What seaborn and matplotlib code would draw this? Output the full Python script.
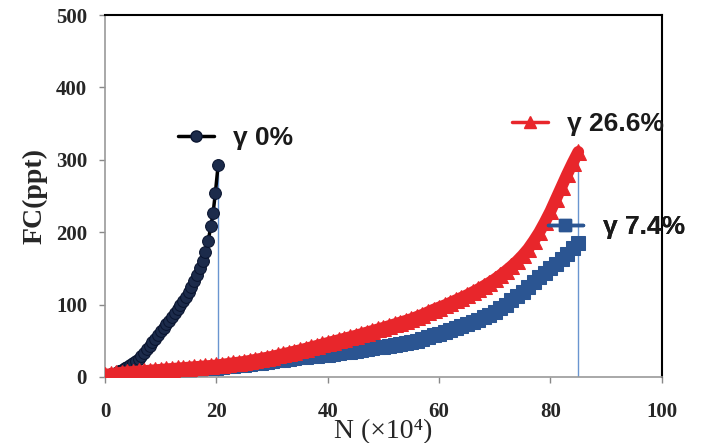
import numpy as np
import pandas as pd
import matplotlib
matplotlib.use('Agg')
import matplotlib.pyplot as plt
from matplotlib.lines import Line2D
import seaborn as sns

# gamma 0% series
n_g0 = [0, 0.5, 1, 1.5, 2, 2.5, 3, 3.5, 4, 4.5, 5, 5.5, 6, 6.5, 7, 7.5, 8, 8.5, 9, 9.5,
        10, 10.5, 11, 11.5, 12, 12.5, 13, 13.5, 14, 14.5, 15, 15.5, 16, 16.5, 17, 17.5,
        18, 18.5, 19, 19.4, 19.8, 20.3]
fc_g0 = [0, 1, 2, 4, 6, 8, 10, 12, 14, 16, 19, 22, 25, 29, 33, 38, 43, 48, 53, 58,
         63, 68, 73, 78, 83, 88, 94, 99, 105, 111, 118, 125, 133, 141, 150, 160,
         172, 188, 208, 227, 254, 293]

# gamma 26.6% and 7.4% series share N = 0..85
n_long = list(range(0, 86))
fc_g266 = [3, 4, 5, 6, 6.5, 7, 7.6, 8.2, 8.8, 9.4, 10,
           10.6, 11.2, 11.8, 12.4, 13, 13.6, 14.2, 14.8, 15.4, 16,
           17, 18, 19, 20, 21, 22.4, 23.8, 25.2, 26.6, 28,
           29.8, 31.6, 33.4, 35.2, 37, 39, 41, 43, 45, 47,
           49, 51, 53, 55, 57, 59.2, 61.4, 63.6, 65.8, 68,
           70.4, 72.8, 75.2, 77.6, 80, 83, 86, 89.5, 93, 96,
           99, 102.5, 106, 109.5, 113, 117, 121, 125.5, 130, 135,
           140.5, 146.5, 153, 160, 168, 177, 188, 200, 214, 229,
           246, 263, 280, 296, 311]
fc_g74 = [1, 1.6, 2.2, 2.8, 3.4, 4, 4.6, 5.2, 5.8, 6.4, 7,
          7.6, 8.2, 8.8, 9.4, 10, 10.6, 11.2, 11.8, 12.4, 13,
          13.8, 14.6, 15.4, 16.2, 17, 18, 19, 20, 21, 22,
          23, 24, 25, 26, 27, 27.8, 28.6, 29.4, 30.2, 31,
          32, 33, 34, 35, 36, 37.2, 38.4, 39.6, 40.8, 42,
          43.2, 44.4, 45.6, 46.8, 48, 50, 52.5, 55, 57.5, 60,
          62.5, 65, 67.5, 70, 73, 76, 79, 82.5, 86, 90,
          95, 100, 106, 112, 118, 124.5, 131, 138, 144, 150,
          156.5, 163, 170.5, 178, 185]

labels = ['γ 0%', 'γ 26.6%', 'γ 7.4%']
red = '#e8262b'
blue = '#2b5592'
navy = '#1c2b4b'

df0 = pd.DataFrame({'N': n_g0, 'FC': fc_g0})
df1 = pd.DataFrame({'N': n_long, 'FC': fc_g266})
df2 = pd.DataFrame({'N': n_long, 'FC': fc_g74})

sns.set_style('white')
plt.rcParams['font.family'] = ['Liberation Serif', 'DejaVu Serif']

fig = plt.figure(figsize=(7.01, 4.43), dpi=100)
ax = fig.add_axes([0.150, 0.149, 0.794, 0.817])

# drop lines
ax.vlines([n_g0[-1], n_long[-1]], 0, [fc_g0[-1], fc_g266[-1]], color='#6a95d0', lw=1, zorder=1)

sns.lineplot(data=df2, x='N', y='FC', color=blue, marker='s', markersize=10,
             markeredgecolor=blue, lw=8, estimator=None, ax=ax, zorder=2)
sns.lineplot(data=df0, x='N', y='FC', color='black', marker='o', markersize=8.5,
             markerfacecolor=navy, markeredgecolor='#0a1530', lw=2.5, estimator=None, ax=ax, zorder=3)
sns.lineplot(data=df1, x='N', y='FC', color=red, marker='^', markersize=11,
             markeredgecolor=red, lw=8.5, estimator=None, ax=ax, zorder=4)

ax.set_xlim(0, 100)
ax.set_ylim(0, 500)
ax.set_xticks([0, 20, 40, 60, 80, 100])
ax.set_yticks([0, 100, 200, 300, 400, 500])
ax.tick_params(axis='both', which='both', direction='out', length=4, width=1,
               color='#888888', labelsize=15)
ax.tick_params(axis='x', pad=14, bottom=True)
ax.tick_params(axis='y', pad=9, left=True)
for lab in ax.get_xticklabels() + ax.get_yticklabels():
    lab.set_fontweight('bold')

for side in ['left', 'bottom']:
    ax.spines[side].set_color('#999999')
    ax.spines[side].set_linewidth(1.2)
for side in ['top', 'right']:
    ax.spines[side].set_color('black')
    ax.spines[side].set_linewidth(1.5)

ax.set_xlabel('N (×10⁴)', fontsize=20, labelpad=-2)
ax.set_ylabel('FC(ppt)', fontsize=20, fontweight='bold', labelpad=6)

# series labels placed next to curves
handles = [
    Line2D([], [], color='black', lw=2.5, marker='o', markersize=8,
           markerfacecolor=navy, markeredgecolor='#0a1530'),
    Line2D([], [], color=red, lw=2.5, marker='^', markersize=9),
    Line2D([], [], color=blue, lw=2.5, marker='s', markersize=8),
]
anchors = [(0.131, 0.660), (0.731, 0.699), (0.795, 0.414)]
for h, lab, anc in zip(handles, labels, anchors):
    leg = ax.legend(handles=[h], labels=[lab], loc='center left', bbox_to_anchor=anc,
                    frameon=False, borderpad=0, borderaxespad=0, handlelength=1.35,
                    handletextpad=0.75,
                    prop={'family': ['Liberation Sans', 'DejaVu Sans'], 'weight': 'bold', 'size': 19})
    for t in leg.get_texts():
        t.set_color('#1a1a1a')
    ax.add_artist(leg)

fig.savefig('out.png', dpi=100)
